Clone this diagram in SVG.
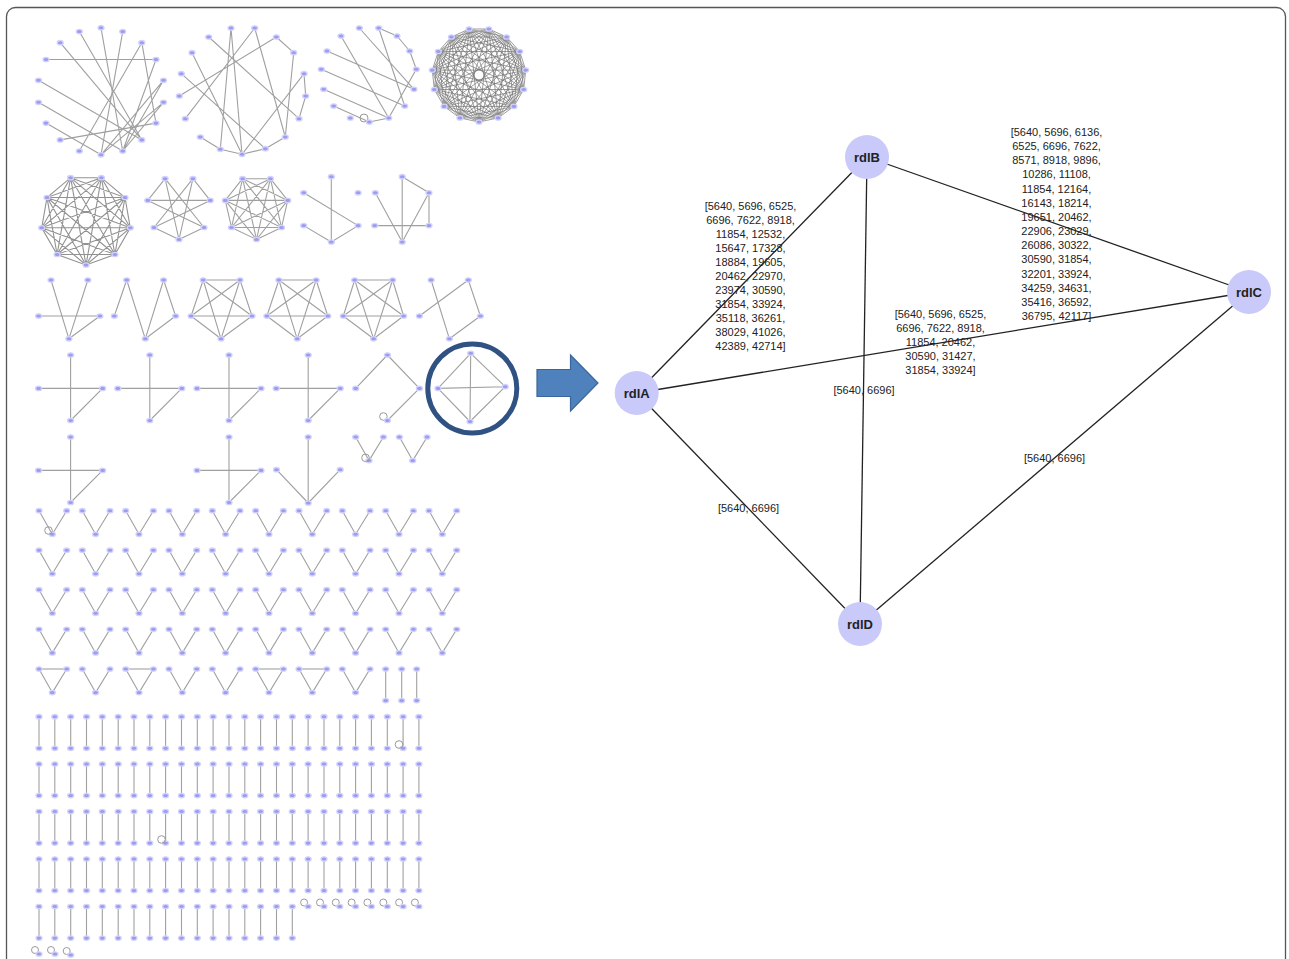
<svg xmlns="http://www.w3.org/2000/svg" width="1289" height="959" viewBox="0 0 1289 959">
<style>
.e{stroke:#a0a0a0;stroke-width:1.1;fill:none;stroke-linejoin:round}
.ed{stroke:#777;stroke-width:.9;fill:none;stroke-opacity:.8}
.lp{fill:none;stroke:#9a9a9a;stroke-width:1}
.nd{fill:#9c9cf2;stroke:#d4d4fb;stroke-width:1.3}
.cn{stroke:#222;stroke-width:1.3;fill:none}
.lab{font-family:"Liberation Sans",Arial,sans-serif;font-size:11px;fill:#222;text-anchor:middle}
.nl{font-family:"Liberation Sans",Arial,sans-serif;font-size:13px;font-weight:bold;fill:#222;text-anchor:middle}
.big{fill:#c9c9fa}
</style>
<defs>
<ellipse id="n" class="nd" cx="0" cy="0" rx="3" ry="2.2"/>
<g id="v"><path class="e" d="M0 0L13.3 23.6L27.7 0"/><use href="#n"/><use href="#n" x="27.7"/><use href="#n" x="13.3" y="23.6"/></g>
<g id="vt"><path class="e" d="M0 0H27.7"/><use href="#v"/></g>
<g id="bar"><path class="e" d="M0 0V31.6"/><use href="#n"/><use href="#n" y="31.6"/></g>
<g id="loop"><circle class="lp" cx="-4" cy="-4" r="3.5"/><use href="#n"/></g>
<g id="cross"><path class="e" d="M0 0V65.5M-32 33.4H32L0 65.5"/><use href="#n"/><use href="#n" x="-32" y="33.4"/><use href="#n" x="32" y="33.4"/><use href="#n" y="65.5"/></g>
<g id="bar17"><use href="#bar" x="39"/><use href="#bar" x="54.8"/><use href="#bar" x="70.7"/><use href="#bar" x="86.5"/><use href="#bar" x="102.3"/><use href="#bar" x="118.2"/><use href="#bar" x="134"/><use href="#bar" x="149.8"/><use href="#bar" x="165.6"/><use href="#bar" x="181.5"/><use href="#bar" x="197.3"/><use href="#bar" x="213.1"/><use href="#bar" x="229"/><use href="#bar" x="244.8"/><use href="#bar" x="260.6"/><use href="#bar" x="276.5"/><use href="#bar" x="292.3"/></g>
<g id="barrow"><use href="#bar17"/><use href="#bar" x="308.1"/><use href="#bar" x="324"/><use href="#bar" x="339.8"/><use href="#bar" x="355.6"/><use href="#bar" x="371.4"/><use href="#bar" x="387.3"/><use href="#bar" x="403.1"/><use href="#bar" x="418.9"/></g>
</defs>
<rect width="1289" height="959" fill="#fff"/>
<rect x="6.5" y="7.5" width="1279" height="1000" rx="9" fill="none" stroke="#555" stroke-width="1.3"/>

<g id="thumb-g1">
<path class="e" d="M46 59.5H156M60.2 42.7L141.8 139.9M79.3 31.6L141.8 139.9M101 27.8L122.7 151M122.7 31.6L101 154.8M141.8 42.7L79.3 151M141.8 42.7L156 123.1M156 59.5L122.7 151M163.5 80.3L101 154.8M163.5 80.3L122.7 151M163.5 102.3L101 154.8M163.5 102.3L122.7 151M60.2 139.9L156 123.1M46 123.1L101 154.8M38.5 102.3L122.7 151M38.5 80.3L141.8 139.9"/>
<use href="#n" x="101" y="27.8"/><use href="#n" x="122.7" y="31.6"/><use href="#n" x="141.8" y="42.7"/><use href="#n" x="156" y="59.5"/><use href="#n" x="163.5" y="80.3"/><use href="#n" x="163.5" y="102.3"/><use href="#n" x="156" y="123.1"/><use href="#n" x="141.8" y="139.9"/><use href="#n" x="122.7" y="151"/><use href="#n" x="101" y="154.8"/><use href="#n" x="79.3" y="151"/><use href="#n" x="60.2" y="139.9"/><use href="#n" x="46" y="123.1"/><use href="#n" x="38.5" y="102.3"/><use href="#n" x="38.5" y="80.3"/><use href="#n" x="46" y="59.5"/><use href="#n" x="60.2" y="42.7"/><use href="#n" x="79.3" y="31.6"/>
</g>
<g id="thumb-g2">
<path class="e" d="M231 28L242 154.3M231 28L220.3 149.3M254.7 28L285.3 137M254.7 28L185.3 118.7M276.3 37L179.3 96M276.3 37L293.7 52.7L285.3 137M208.7 37L299 118.7M192 52.7L242 154.3M181.3 73.7L265.3 148.7M304 73.7L242 154.3M304 73.7L305.7 96L299 118.7M200.3 137L220.3 149.3L242 154.3L265.3 148.7L285.3 137"/>
<use href="#n" x="231" y="28"/><use href="#n" x="254.7" y="28"/><use href="#n" x="276.3" y="37"/><use href="#n" x="293.7" y="52.7"/><use href="#n" x="304" y="73.7"/><use href="#n" x="305.7" y="96"/><use href="#n" x="299" y="118.7"/><use href="#n" x="285.3" y="137"/><use href="#n" x="265.3" y="148.7"/><use href="#n" x="242" y="154.3"/><use href="#n" x="220.3" y="149.3"/><use href="#n" x="200.3" y="137"/><use href="#n" x="185.3" y="118.7"/><use href="#n" x="179.3" y="96"/><use href="#n" x="181.3" y="73.7"/><use href="#n" x="192" y="52.7"/><use href="#n" x="208.7" y="37"/>
</g>
<g id="thumb-g3">
<path class="e" d="M341 36L388.7 118M359.3 28L414 89.3M378.7 28L397 36L409.7 51L416.3 69.3M378.7 28L404.7 106M327 51L414 89.3M321.3 69.3L404.7 106M323.7 89.3L388.7 118M333.7 106L369.3 122L388.7 118M416.3 69.3L388.7 118"/>
<circle class="lp" cx="364" cy="118" r="4"/>
<use href="#n" x="359.3" y="28"/><use href="#n" x="378.7" y="28"/><use href="#n" x="397" y="36"/><use href="#n" x="409.7" y="51"/><use href="#n" x="416.3" y="69.3"/><use href="#n" x="414" y="89.3"/><use href="#n" x="404.7" y="106"/><use href="#n" x="388.7" y="118"/><use href="#n" x="369.3" y="122"/><use href="#n" x="350.3" y="118"/><use href="#n" x="333.7" y="106"/><use href="#n" x="323.7" y="89.3"/><use href="#n" x="321.3" y="69.3"/><use href="#n" x="327" y="51"/><use href="#n" x="341" y="36"/>
</g>
<g id="thumb-g4">
<path class="ed" d="M488.8 29L506.6 37L519.7 51.5L525.7 70.1L523.7 89.5L513.9 106.4L498.1 117.9L479 122L459.9 117.9L444.1 106.4L434.3 89.5L432.3 70.1L438.3 51.5L451.4 37L469.2 29Z M488.8 29L519.7 51.5L523.7 89.5L498.1 117.9L459.9 117.9L434.3 89.5L438.3 51.5L469.2 29L506.6 37L525.7 70.1L513.9 106.4L479 122L444.1 106.4L432.3 70.1L451.4 37Z M488.8 29L523.7 89.5L459.9 117.9L438.3 51.5L506.6 37L513.9 106.4L444.1 106.4L451.4 37L519.7 51.5L498.1 117.9L434.3 89.5L469.2 29L525.7 70.1L479 122L432.3 70.1Z M488.8 29L479 122L469.2 29L498.1 117.9L451.4 37L513.9 106.4L438.3 51.5L523.7 89.5L432.3 70.1L525.7 70.1L434.3 89.5L519.7 51.5L444.1 106.4L506.6 37L459.9 117.9Z M488.8 29L525.7 70.1L498.1 117.9L444.1 106.4L438.3 51.5Z M506.6 37L523.7 89.5L479 122L434.3 89.5L451.4 37Z M519.7 51.5L513.9 106.4L459.9 117.9L432.3 70.1L469.2 29Z M488.8 29L498.1 117.9L438.3 51.5L525.7 70.1L444.1 106.4Z M506.6 37L479 122L451.4 37L523.7 89.5L434.3 89.5Z M519.7 51.5L459.9 117.9L469.2 29L513.9 106.4L432.3 70.1Z M488.8 29L513.9 106.4L434.3 89.5Z M506.6 37L498.1 117.9L432.3 70.1Z M519.7 51.5L479 122L438.3 51.5Z M525.7 70.1L459.9 117.9L451.4 37Z M523.7 89.5L444.1 106.4L469.2 29Z"/>
<circle cx="479" cy="75" r="5" fill="#fff" stroke="#777" stroke-width="1"/>
<use href="#n" x="488.8" y="29"/><use href="#n" x="506.6" y="37"/><use href="#n" x="519.7" y="51.5"/><use href="#n" x="525.7" y="70.1"/><use href="#n" x="523.7" y="89.5"/><use href="#n" x="513.9" y="106.4"/><use href="#n" x="498.1" y="117.9"/><use href="#n" x="479" y="122"/><use href="#n" x="459.9" y="117.9"/><use href="#n" x="444.1" y="106.4"/><use href="#n" x="434.3" y="89.5"/><use href="#n" x="432.3" y="70.1"/><use href="#n" x="438.3" y="51.5"/><use href="#n" x="451.4" y="37"/><use href="#n" x="469.2" y="29"/>
</g>
<g id="thumb-g5">
<path class="ed" style="stroke-width:1.1" d="M70.6 177.7L101.4 177.7L125 197.5L130.3 227.8L114.9 254.5L86 265L57.1 254.5L41.7 227.8L47 197.5Z M70.6 177.7L125 197.5L114.9 254.5L57.1 254.5L47 197.5L101.4 177.7L130.3 227.8L86 265L41.7 227.8Z M70.6 177.7L114.9 254.5L47 197.5L130.3 227.8L41.7 227.8L125 197.5L57.1 254.5L101.4 177.7L86 265Z M70.6 177.7L130.3 227.8L57.1 254.5Z M101.4 177.7L114.9 254.5L41.7 227.8Z M125 197.5L86 265L47 197.5Z"/>
<use href="#n" x="70.6" y="177.7"/><use href="#n" x="101.4" y="177.7"/><use href="#n" x="125" y="197.5"/><use href="#n" x="130.3" y="227.8"/><use href="#n" x="114.9" y="254.5"/><use href="#n" x="86" y="265"/><use href="#n" x="57.1" y="254.5"/><use href="#n" x="41.7" y="227.8"/><use href="#n" x="47" y="197.5"/>
</g>
<g id="thumb-g6">
<path class="e" d="M147.8 200.4L165.1 178.7L204 227.5L179 239.5L154 227.5L192.9 178.7L210.2 200.4L147.8 200.4L204 227.5M165.1 178.7L179 239.5L192.9 178.7M210.2 200.4L154 227.5"/>
<use href="#n" x="165.1" y="178.7"/><use href="#n" x="192.9" y="178.7"/><use href="#n" x="210.2" y="200.4"/><use href="#n" x="204" y="227.5"/><use href="#n" x="179" y="239.5"/><use href="#n" x="154" y="227.5"/><use href="#n" x="147.8" y="200.4"/>
</g>
<g id="thumb-g7">
<path class="e" d="M242.6 178.7L270.4 178.7L287.7 200.4L281.5 227.5L256.5 239.5L231.5 227.5L225.3 200.4Z M242.6 178.7L287.7 200.4L256.5 239.5L225.3 200.4L270.4 178.7L281.5 227.5L231.5 227.5Z M242.6 178.7L281.5 227.5L225.3 200.4L287.7 200.4L231.5 227.5L270.4 178.7L256.5 239.5Z"/>
<use href="#n" x="242.6" y="178.7"/><use href="#n" x="270.4" y="178.7"/><use href="#n" x="287.7" y="200.4"/><use href="#n" x="281.5" y="227.5"/><use href="#n" x="256.5" y="239.5"/><use href="#n" x="231.5" y="227.5"/><use href="#n" x="225.3" y="200.4"/>
</g>
<g id="thumb-g8">
<path class="e" d="M331.3 176.7V242M303.7 192.8L358.1 225.6L331.3 242L303.7 225.6"/>
<use href="#n" x="331.3" y="176.7"/><use href="#n" x="303.7" y="192.8"/><use href="#n" x="358.1" y="192.8"/><use href="#n" x="303.7" y="225.6"/><use href="#n" x="358.1" y="225.6"/><use href="#n" x="331.3" y="242"/>
</g>
<g id="thumb-g9">
<path class="e" d="M402.2 176.7V242M402.2 176.7L429 192.8V225.6H374.7M375.3 192.8L402.2 242L429 192.8"/>
<use href="#n" x="402.2" y="176.7"/><use href="#n" x="375.3" y="192.8"/><use href="#n" x="429" y="192.8"/><use href="#n" x="374.7" y="225.6"/><use href="#n" x="429" y="225.6"/><use href="#n" x="402.2" y="242"/>
</g>
<g id="thumb-g10">
<path class="e" d="M51 280L68.9 338.8L87.8 280M38.6 316H99.9L68.9 338.8"/>
<use href="#n" x="51" y="280"/><use href="#n" x="87.8" y="280"/><use href="#n" x="38.6" y="316"/><use href="#n" x="99.9" y="316"/><use href="#n" x="68.9" y="338.8"/>
</g>
<g id="thumb-g11">
<path class="e" d="M114.3 316L126.7 280L145.3 338.8L163.6 280L175.6 316L145.3 338.8"/>
<use href="#n" x="126.7" y="280"/><use href="#n" x="163.6" y="280"/><use href="#n" x="114.3" y="316"/><use href="#n" x="175.6" y="316"/><use href="#n" x="145.3" y="338.8"/>
</g>
<g id="thumb-g12">
<path class="e" d="M203.2 280L240 280L252 316L221 338.8L191.1 316Z M203.2 280L252 316L191.1 316L240 280L221 338.8Z"/>
<use href="#n" x="203.2" y="280"/><use href="#n" x="240" y="280"/><use href="#n" x="252" y="316"/><use href="#n" x="221" y="338.8"/><use href="#n" x="191.1" y="316"/>
</g>
<g id="thumb-g13">
<path class="e" d="M278.9 280L316.1 280L327.8 316L297.2 338.8L266.9 316Z M278.9 280L327.8 316L266.9 316L316.1 280L297.2 338.8Z"/>
<use href="#n" x="278.9" y="280"/><use href="#n" x="316.1" y="280"/><use href="#n" x="327.8" y="316"/><use href="#n" x="297.2" y="338.8"/><use href="#n" x="266.9" y="316"/>
</g>
<g id="thumb-g14">
<path class="e" d="M354.7 280L392.6 280L403.6 316L373.6 338.8L343.3 316Z M354.7 280L403.6 316L343.3 316L392.6 280L373.6 338.8Z"/>
<use href="#n" x="354.7" y="280"/><use href="#n" x="392.6" y="280"/><use href="#n" x="403.6" y="316"/><use href="#n" x="373.6" y="338.8"/><use href="#n" x="343.3" y="316"/>
</g>
<g id="thumb-g15">
<path class="e" d="M431.1 280L449.4 338.8L480.4 316L468.3 280L419.4 316"/>
<use href="#n" x="431.1" y="280"/><use href="#n" x="468.3" y="280"/><use href="#n" x="419.4" y="316"/><use href="#n" x="480.4" y="316"/><use href="#n" x="449.4" y="338.8"/>
</g>
<g id="thumb-crosses">
<use href="#cross" x="70.6" y="355"/><use href="#cross" x="149.8" y="355"/><use href="#cross" x="229" y="355"/><use href="#cross" x="308.2" y="355"/>
<use href="#cross" x="70.6" y="437"/><use href="#cross" x="229" y="437"/>
</g>
<g id="thumb-g20">
<path class="e" d="M355.7 388.4L387.4 355L419.4 388.4L387.4 420.5"/>
<circle class="lp" cx="383.4" cy="416.5" r="3.8"/>
<use href="#n" x="387.4" y="355"/><use href="#n" x="355.7" y="388.4"/><use href="#n" x="419.4" y="388.4"/><use href="#n" x="387.4" y="420.5"/>
</g>
<g id="thumb-g21">
<path class="e" d="M470.7 353.3L505.2 386.7L470 421.5L438 388.4Z M470.7 353.3L470 421.5M438 388.4L505.2 386.7"/>
<use href="#n" x="470.7" y="353.3"/><use href="#n" x="438" y="388.4"/><use href="#n" x="505.2" y="386.7"/><use href="#n" x="470" y="421.5"/>
</g>
<g id="thumb-g24">
<path class="e" d="M308.2 437V503M276.5 469.7L308.2 503L340.2 469.7"/>
<use href="#n" x="308.2" y="437"/><use href="#n" x="276.5" y="469.7"/><use href="#n" x="340.2" y="469.7"/><use href="#n" x="308.2" y="503"/>
</g>
<g id="thumb-g25">
<use href="#v" x="355.7" y="437"/><circle class="lp" cx="365.5" cy="457.8" r="3.8"/>
<use href="#v" x="399.4" y="437"/>
</g>
<g id="thumb-vgrid">
<use href="#v" x="39" y="510.7"/><use href="#v" x="82.3" y="510.7"/><use href="#v" x="125.7" y="510.7"/><use href="#v" x="169" y="510.7"/><use href="#v" x="212.3" y="510.7"/><use href="#v" x="255.7" y="510.7"/><use href="#v" x="299" y="510.7"/><use href="#v" x="342.3" y="510.7"/><use href="#v" x="385.7" y="510.7"/><use href="#v" x="429" y="510.7"/>
<circle class="lp" cx="48.5" cy="530.5" r="3.8"/>
<use href="#v" x="39" y="550.2"/><use href="#v" x="82.3" y="550.2"/><use href="#v" x="125.7" y="550.2"/><use href="#v" x="169" y="550.2"/><use href="#v" x="212.3" y="550.2"/><use href="#v" x="255.7" y="550.2"/><use href="#v" x="299" y="550.2"/><use href="#v" x="342.3" y="550.2"/><use href="#v" x="385.7" y="550.2"/><use href="#v" x="429" y="550.2"/>
<use href="#v" x="39" y="589.7"/><use href="#v" x="82.3" y="589.7"/><use href="#v" x="125.7" y="589.7"/><use href="#v" x="169" y="589.7"/><use href="#v" x="212.3" y="589.7"/><use href="#v" x="255.7" y="589.7"/><use href="#v" x="299" y="589.7"/><use href="#v" x="342.3" y="589.7"/><use href="#v" x="385.7" y="589.7"/><use href="#v" x="429" y="589.7"/>
<use href="#v" x="39" y="629.3"/><use href="#v" x="82.3" y="629.3"/><use href="#v" x="125.7" y="629.3"/><use href="#v" x="169" y="629.3"/><use href="#v" x="212.3" y="629.3"/><use href="#v" x="255.7" y="629.3"/><use href="#v" x="299" y="629.3"/><use href="#v" x="342.3" y="629.3"/><use href="#v" x="385.7" y="629.3"/><use href="#v" x="429" y="629.3"/>
<use href="#vt" x="39" y="669"/><use href="#v" x="82.3" y="669"/><use href="#vt" x="125.7" y="669"/><use href="#v" x="169" y="669"/><use href="#v" x="212.3" y="669"/><use href="#vt" x="255.7" y="669"/><use href="#vt" x="299" y="669"/><use href="#v" x="342.3" y="669"/>
<use href="#bar" x="385.7" y="669"/><use href="#bar" x="401.7" y="669"/><use href="#bar" x="416.7" y="669"/>
</g>
<g id="thumb-bars">
<use href="#barrow" y="716.7"/>
<use href="#barrow" y="764"/>
<use href="#barrow" y="811.5"/>
<use href="#barrow" y="859"/>
<use href="#bar17" y="906.5"/>
<circle class="lp" cx="399" cy="744.5" r="3.8"/>
<circle class="lp" cx="161.5" cy="839.5" r="3.8"/>
<use href="#loop" x="308.1" y="906.5"/><use href="#loop" x="324" y="906.5"/><use href="#loop" x="339.8" y="906.5"/><use href="#loop" x="355.6" y="906.5"/><use href="#loop" x="371.4" y="906.5"/><use href="#loop" x="387.3" y="906.5"/><use href="#loop" x="403.1" y="906.5"/><use href="#loop" x="418.9" y="906.5"/>
<use href="#loop" x="39" y="954"/><use href="#loop" x="55" y="954"/><use href="#loop" x="70.7" y="955"/>
</g>

<g id="highlight">
<circle cx="472.3" cy="388.5" r="44.5" fill="none" stroke="#2f5283" stroke-width="5"/>
</g>
<g id="arrow">
<path d="M537 369.5H570.5V355L598 383L570.5 411V396.5H537Z" fill="#4f81bd" stroke="#3a679b" stroke-width="1.2"/>
</g>

<g id="connectors">
<line class="cn" x1="636.7" y1="393" x2="867" y2="157"/>
<line class="cn" x1="636.7" y1="393" x2="1249" y2="292"/>
<line class="cn" x1="636.7" y1="393" x2="860" y2="624"/>
<line class="cn" x1="867" y1="157" x2="1249" y2="292"/>
<line class="cn" x1="867" y1="157" x2="860" y2="624"/>
<line class="cn" x1="1249" y1="292" x2="860" y2="624"/>
</g>
<g id="edge-labels">
<text class="lab" x="750.5" y="210"><tspan x="750.5">[5640, 5696, 6525,</tspan><tspan x="750.5" dy="14">6696, 7622, 8918,</tspan><tspan x="750.5" dy="14">11854, 12532,</tspan><tspan x="750.5" dy="14">15647, 17328,</tspan><tspan x="750.5" dy="14">18884, 19605,</tspan><tspan x="750.5" dy="14">20462, 22970,</tspan><tspan x="750.5" dy="14">23974, 30590,</tspan><tspan x="750.5" dy="14">31854, 33924,</tspan><tspan x="750.5" dy="14">35118, 36261,</tspan><tspan x="750.5" dy="14">38029, 41026,</tspan><tspan x="750.5" dy="14">42389, 42714]</tspan></text>
<text class="lab" x="1056.5" y="136"><tspan x="1056.5">[5640, 5696, 6136,</tspan><tspan x="1056.5" dy="14.15">6525, 6696, 7622,</tspan><tspan x="1056.5" dy="14.15">8571, 8918, 9896,</tspan><tspan x="1056.5" dy="14.15">10286, 11108,</tspan><tspan x="1056.5" dy="14.15">11854, 12164,</tspan><tspan x="1056.5" dy="14.15">16143, 18214,</tspan><tspan x="1056.5" dy="14.15">19651, 20462,</tspan><tspan x="1056.5" dy="14.15">22906, 23029,</tspan><tspan x="1056.5" dy="14.15">26086, 30322,</tspan><tspan x="1056.5" dy="14.15">30590, 31854,</tspan><tspan x="1056.5" dy="14.15">32201, 33924,</tspan><tspan x="1056.5" dy="14.15">34259, 34631,</tspan><tspan x="1056.5" dy="14.15">35416, 36592,</tspan><tspan x="1056.5" dy="14.15">36795, 42117]</tspan></text>
<text class="lab" x="940.5" y="318"><tspan x="940.5">[5640, 5696, 6525,</tspan><tspan x="940.5" dy="14">6696, 7622, 8918,</tspan><tspan x="940.5" dy="14">11854, 20462,</tspan><tspan x="940.5" dy="14">30590, 31427,</tspan><tspan x="940.5" dy="14">31854, 33924]</tspan></text>
<text class="lab" x="864" y="394">[5640, 6696]</text>
<text class="lab" x="748.5" y="512">[5640, 6696]</text>
<text class="lab" x="1054.5" y="462">[5640, 6696]</text>
</g>
<g id="node-rdlA"><circle class="big" cx="636.7" cy="393" r="22"/><text class="nl" x="636.7" y="397.5">rdlA</text></g>
<g id="node-rdlB"><circle class="big" cx="867" cy="157" r="22"/><text class="nl" x="867" y="161.5">rdlB</text></g>
<g id="node-rdlC"><circle class="big" cx="1249" cy="292" r="22"/><text class="nl" x="1249" y="296.5">rdlC</text></g>
<g id="node-rdlD"><circle class="big" cx="860" cy="624" r="22"/><text class="nl" x="860" y="628.5">rdlD</text></g>
</svg>
